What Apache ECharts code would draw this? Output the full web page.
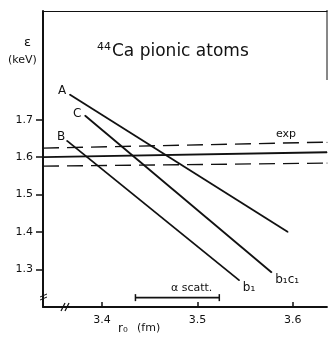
<!DOCTYPE html>
<html><head><meta charset="utf-8">
<script src="https://cdn.jsdelivr.net/npm/echarts@6/dist/echarts.min.js"></script>
<style>html,body{margin:0;padding:0;background:#fff}#c{width:329px;height:338px}</style>
</head><body><div id="c"></div>
<script>
// Data
const xA = [3.366, 3.595], yA = [1.767, 1.400];
const xC = [3.382, 3.578], yC = [1.711, 1.292];
const xB = [3.363, 3.544], yB = [1.644, 1.271];
const xExp = [3.338, 3.636];
const yExp = [1.600, 1.613];
const yExpHi = [1.624, 1.640];
const yExpLo = [1.576, 1.584];
const xScatt = [3.435, 3.523], yScatt = [1.225, 1.225];
const yTicks = [1.3, 1.4, 1.5, 1.6, 1.7];
const xTicks = [3.4, 3.5, 3.6];
const noteText = ['exp', 'α scatt.'];
const noteX = [3.593, 3.494];
const noteY = [1.662, 1.249];

const F = 'DejaVu Sans';
const INK = '#111';
const pts = (xs, ys) => xs.map((x, i) => [x, ys[i]]);

function lineSeries(xs, ys, startLabel, endLabel, width, type) {
  const d = pts(xs, ys).map((p, i) => {
    const o = { value: p };
    const l = i === 0 ? startLabel : endLabel;
    if (l) o.label = Object.assign({ show: true, color: INK, fontFamily: F, fontSize: 12 }, l);
    return o;
  });
  return {
    type: 'line', data: d, symbol: 'circle', symbolSize: 1, silent: true,
    itemStyle: { color: INK },
    lineStyle: { color: INK, width: width, type: type || 'solid' },
    animation: false
  };
}

const chart = echarts.init(document.getElementById('c'), null, { renderer: 'canvas' });
chart.setOption({
  animation: false,
  backgroundColor: '#fff',
  grid: { left: 43, right: 2, top: 11, bottom: 31 },
  title: {
    text: '{sup|44}{main|Ca pionic atoms}', left: 92, top: 37,
    textStyle: { fontWeight: 'normal', rich: {
      sup: { fontFamily: F, fontSize: 11, fontWeight: 'normal', color: INK, verticalAlign: 'top', padding: [0, 1, 8, 0] },
      main: { fontFamily: F, fontSize: 17, fontWeight: 'normal', color: INK }
    } }
  },
  xAxis: [{
    type: 'value', min: 3.338, max: 3.636,
    axisLine: { show: true, lineStyle: { color: INK, width: 1.8 } },
    axisTick: { show: true, inside: true, length: 5, customValues: xTicks, lineStyle: { color: INK, width: 1.5 } },
    axisLabel: { show: true, customValues: xTicks, formatter: v => v.toFixed(1), fontFamily: F, fontSize: 11, color: INK, margin: 8 },
    splitLine: { show: false }
  }, {
    type: 'value', position: 'top', min: 3.338, max: 3.636,
    axisLine: { show: true, lineStyle: { color: INK, width: 1 } },
    axisTick: { show: false }, axisLabel: { show: false }, splitLine: { show: false }
  }],
  yAxis: {
    type: 'value', min: 1.2, max: 1.99,
    axisLine: { show: true, lineStyle: { color: INK, width: 2 } },
    axisTick: { show: true, inside: false, length: 7, customValues: yTicks, lineStyle: { color: INK, width: 1.5 } },
    axisLabel: { show: true, customValues: yTicks, formatter: v => v.toFixed(1), fontFamily: F, fontSize: 11, color: INK, margin: 10 },
    splitLine: { show: false }
  },
  series: [
    lineSeries(xA, yA, { formatter: 'A', position: 'left', distance: 3, offset: [0, -4] }, null, 1.8),
    lineSeries(xC, yC, { formatter: 'C', position: 'left', distance: 3, offset: [0, -2] }, { formatter: 'b₁c₁', position: 'right', distance: 3, offset: [0, 7] }, 1.8),
    lineSeries(xB, yB, { formatter: 'B', position: 'left', distance: 1, offset: [0, -4] }, { formatter: 'b₁', position: 'right', distance: 3, offset: [0, 7] }, 1.8),
    lineSeries(xExp, yExp, null, null, 1.8),
    lineSeries(xExp, yExpHi, null, null, 1.4, [16, 8]),
    lineSeries(xExp, yExpLo, null, null, 1.4, [16, 8]),
    {
      type: 'line', data: pts(xScatt, yScatt), symbol: 'rect', symbolSize: [1.5, 7],
      itemStyle: { color: INK }, lineStyle: { color: INK, width: 1.6 }, silent: true
    },
    {
      type: 'scatter', symbolSize: 1, itemStyle: { color: 'transparent', opacity: 1 }, silent: true,
      data: noteText.map((t, i) => ({ value: [noteX[i], noteY[i]], name: t })),
      label: { show: true, position: 'inside', formatter: p => p.name, color: INK, opacity: 1, fontFamily: F, fontSize: 11, textBorderWidth: 0 }
    }
  ],
  graphic: [
    { type: 'text', left: 24, top: 36, style: { text: 'ε', font: '13px "DejaVu Sans"', fill: INK } },
    { type: 'text', left: 8, top: 55, style: { text: '(keV)', font: '11px "DejaVu Sans"', fill: INK } },
    { type: 'text', left: 118, top: 323, style: { text: 'r₀', font: '12px "DejaVu Sans"', fill: INK } },
    { type: 'text', left: 137, top: 323, style: { text: '(fm)', font: '11px "DejaVu Sans"', fill: INK } },
    { type: 'line', shape: { x1: 327, y1: 10, x2: 327, y2: 80 }, style: { stroke: INK, lineWidth: 1 } },
    { type: 'line', shape: { x1: 61, y1: 311, x2: 65, y2: 303 }, style: { stroke: INK, lineWidth: 1.3 } },
    { type: 'line', shape: { x1: 65, y1: 311, x2: 69, y2: 303 }, style: { stroke: INK, lineWidth: 1.3 } },
    { type: 'line', shape: { x1: 40, y1: 297, x2: 47, y2: 294 }, style: { stroke: INK, lineWidth: 1 } },
    { type: 'line', shape: { x1: 40, y1: 300, x2: 47, y2: 297 }, style: { stroke: INK, lineWidth: 1 } }
  ]
});
</script></body></html>
